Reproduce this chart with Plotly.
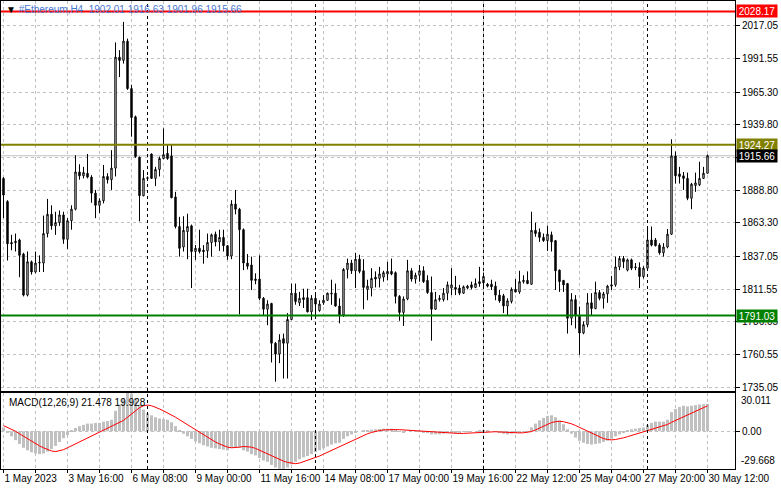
import plotly.graph_objects as go

# ---------------- data ----------------
opens = [1898,1880,1848,1849,1850,1839,1807,1833,1825,1832,1832,1855,1870,1861,1863.5,1869.5,1850.5,1865,1874,1903,
 1900,1902,1899,1886.5,1877,1880.5,1899.5,1897,1906,1992.5,1990,2005,1968,1946,1914.5,1884.5,1898,1917,1898,1905,
 1913.5,1917.5,1915.5,1883.5,1860.5,1844.5,1856.5,1861,1841,1843.5,1842,1841.5,1848,1854.5,1848.5,1852,1845.5,1837.5,1878,1874,
 1858,1832,1830.5,1819.5,1819.5,1804.5,1796,1800.5,1769.5,1761,1773,1769.5,1788,1808.5,1801,1805,1805,1794,1804.5,1795,
 1801,1803,1808.5,1808.5,1798.5,1791.5,1827,1832,1826,1835,1826,1811.5,1812.5,1821,1820,1821,1823.5,1825.5,1824.5,1806,
 1793.5,1804,1826,1819.5,1822.5,1826,1818.5,1809,1796,1803.5,1803.5,1808.5,1812.5,1813,1812.5,1808.5,1812.5,1815,1813,1817.5,
 1816.5,1815.5,1815.5,1814,1807,1806.5,1798.5,1802,1811.5,1809.5,1817.5,1818.5,1815.5,1857.5,1856,1852,1849.5,1854,1849.5,1826.5,
 1818.5,1816,1789,1803.5,1790.5,1777.5,1784,1801,1796.5,1809,1804.5,1808,1814,1815,1829,1835.5,1826.5,1834.5,1829,1828.5,
 1821.5,1828,1850,1850,1846,1840,1844.5,1854.5,1915.5,1901.5,1900,1898,1882.5,1892.5,1893,1898,1902.01]
highs = [1899,1881,1854,1855,1851,1840,1841,1834,1841,1838,1869,1882,1877,1872,1873,1872,1867,1877,1916,1909,
 1907,1917,1900.5,1889,1882.5,1908.5,1902,1920,2004,1998,2020,2007,1971,1947,1915,1904.5,1899.5,1917.5,1907,1915,
 1937,1924,1924,1887.5,1868,1868.5,1870.5,1862,1846,1858,1846,1855,1855,1856.5,1858,1858,1846,1881,1889,1875,
 1859,1839,1837,1824,1838,1805.5,1803,1801,1770.5,1776.5,1777,1793,1816,1816,1809.5,1812,1812,1807,1808.5,1803,
 1807,1809,1819,1816,1804.5,1828,1835.5,1834.5,1840,1838.5,1835,1819,1828,1825.5,1829,1826,1833,1835.5,1825.5,1807,
 1806,1834.5,1828,1824.5,1830.5,1829.5,1822.5,1821.5,1809.5,1807,1812.5,1817.5,1828,1822,1815,1814.5,1815,1817.5,1820,1829,
 1824.5,1816.5,1819,1817.5,1811,1808,1804.5,1813,1819.5,1826,1822.5,1825.5,1872,1863.5,1859,1855,1861,1856.5,1850,1827,
 1818.5,1816.5,1808.5,1807,1798,1786.5,1808.5,1808.5,1817.5,1811,1809.5,1815,1822,1837,1837.5,1837.5,1835.5,1835.5,1832,1832.5,
 1829.5,1860.5,1860.5,1851.5,1847.5,1847.5,1858.5,1928.5,1919,1907,1903,1902.5,1894.5,1902.5,1911,1907,1916.63]
lows = [1867,1834,1842,1841,1821,1806,1806,1823,1824,1825,1825,1852,1858,1854,1861,1847,1843,1858,1873,1897,
 1898,1898,1879,1867,1871,1878.5,1894,1889,1899.5,1977,1987.5,1967,1930.5,1914,1864.5,1884,1896.5,1897.5,1892,1899.5,
 1913,1912.5,1882.5,1859,1837,1841,1835,1812.5,1834.5,1839.5,1831.5,1836,1837,1845,1841.5,1841,1834.5,1835,1870,1792,
 1826.5,1827,1811,1815.5,1803,1791.5,1783.5,1754.5,1739.5,1754,1742,1742,1787.5,1799.5,1798.5,1797,1793.5,1787.5,1791.5,1794,
 1799.5,1802.5,1799.5,1798,1785,1790,1820,1823.5,1812.5,1824,1796,1803,1806,1813,1813,1817.5,1818.5,1822.5,1800.5,1787,
 1783,1803,1817.5,1816,1817.5,1816.5,1808,1771.5,1795.5,1802,1802,1803,1807,1807,1807,1808,1811.5,1811.5,1812.5,1813.5,
 1812.5,1813,1811,1803,1801,1793,1791.5,1800.5,1809,1808,1816,1815.5,1815,1852.5,1848.5,1848.5,1841.5,1841,1811,1809.5,
 1809.5,1777,1783.5,1781,1760.5,1776.5,1782,1791.5,1796,1803,1796.5,1801,1811,1813.5,1826.5,1828,1825.5,1826.5,1826.5,1812.5,
 1820,1827,1845,1845,1838.5,1837,1843.5,1854,1894,1894,1889,1881,1874,1887.5,1892,1897.5,1901.96]
closes = [1885,1847,1847,1848,1838,1807,1833,1825,1832,1832.5,1855,1870,1861,1863.5,1869.5,1850.5,1865,1874,1903,1900,
 1902.5,1899,1886.5,1877,1880.5,1899.5,1897,1906,1992.5,1990,2005,1968,1945.5,1915,1884.5,1898,1898.5,1898,1905,1913.5,
 1916.5,1913.5,1883,1860.5,1843.5,1857.5,1860.5,1841,1843.5,1841,1841,1848,1854,1848.5,1852,1845.5,1837.5,1878,1874,1858,
 1832,1829.5,1818.5,1818.5,1804.5,1796,1800,1769.5,1761,1772,1769.5,1788,1808.5,1802,1804.5,1803.5,1794,1804.5,1800,1800,
 1803,1808.5,1808,1798.5,1791.5,1827,1832,1826,1835,1825.5,1813,1814,1820,1819.5,1823.5,1824.5,1825.5,1823.5,1806,1793.5,
 1804,1826,1819.5,1822.5,1826,1817.5,1809,1796,1803.5,1804.5,1808.5,1815,1815,1811.5,1808.5,1813.5,1814,1813,1816,1816,
 1821.5,1814,1813.5,1807,1802.5,1798.5,1802.5,1811.5,1809.5,1817.5,1818.5,1816,1857.5,1855,1852,1849.5,1854.5,1848.5,1826,1817.5,
 1815,1789,1803.5,1791.5,1777.5,1784,1801,1796.5,1809,1804.5,1808,1814,1815,1829,1835.5,1833,1834.5,1828,1828.5,1821.5,
 1828,1850,1846,1845.5,1840,1844.5,1854.5,1915.5,1900,1899.5,1898,1882.5,1893.5,1894.5,1898,1902,1915.66]

macd_main = [3,-1,-4,-7,-10,-13,-15,-16.5,-17.5,-18,-17.5,-16,-14,-11.5,-8.5,-5.5,-3,0.5,2.5,4,
 5,6,6,6.5,6.5,7.5,8,9,16,21,26,30.011,29.5,26,21,17,14,12.5,11,10,
 9.5,9,7,4,1,-2,-4,-6,-8,-9.5,-11,-12,-13,-13.5,-14,-14.5,-15,-13,-12.5,-13,
 -15,-16,-18,-19,-21,-23,-24,-26.5,-28.5,-29.5,-29.668,-28.5,-26,-24,-22,-20.5,-19.5,-18,-16.5,-15,
 -13.5,-12,-10.5,-9.5,-9,-6,-4,-2.5,-1,0,0.5,0.8,1.2,1.5,1.8,2,2,2,1,-0.5,
 -1,0,0,-0.5,-0.5,-1,-1.5,-2.5,-2.5,-2.5,-2,-1.5,-1,-1,-1,-0.5,-0.5,0,0,0.3,
 0.5,0.3,0,-0.5,-1.5,-2,-2.5,-2,-1.5,-0.8,-0.3,-0.3,3,6,8.5,10.5,12,12.5,11,8.5,
 5.5,1.5,-2,-5,-7.5,-9,-10,-10.5,-10,-9.5,-8.5,-7.5,-6,-4,-2.5,-1,0.3,1.5,2,2.5,
 3,5,6.5,7.5,7.5,7.5,9,15,17.5,19,20,19.5,20,20.5,21,21.2,21.478]
macd_signal = [4.4,3,1.5,0,-2,-4,-6,-8,-10,-11.5,-13,-14.5,-15.5,-16,-15.5,-14.5,-13,-11.5,-10,-8.5,
 -7,-5.5,-4,-2.5,-1,0.5,2,3.5,5,6.5,8.5,11,13.5,16,18.5,20,20.5,20,19,17.5,
 16,14.5,13,11,9,7,5,3,1,-1,-3,-5,-7,-8.5,-10,-11.5,-12.5,-13,-13,-12.5,
 -12,-12,-12.5,-13.5,-15,-16.5,-18,-19.5,-21,-22.5,-23.5,-24.5,-25.2,-25.5,-25,-24,-23,-22,-21,-19.5,
 -18,-16.5,-15,-13.5,-12,-10.5,-9,-7.5,-6,-4.5,-3,-2,-1,0,0.5,1,1.2,1.3,1.3,1.2,
 1,0.8,0.6,0.4,0.2,0,-0.3,-0.6,-0.9,-1.2,-1.4,-1.6,-1.7,-1.8,-1.8,-1.7,-1.5,-1.3,-1,-0.8,
 -0.5,-0.4,-0.3,-0.4,-0.6,-0.8,-1,-1.2,-1.3,-1.3,-1.2,-1,-0.3,1,2.5,4,5.5,6.8,7.5,7.8,
 7.5,6.8,5.8,4.5,3,1.5,0,-1.5,-3,-4.5,-5.8,-6.5,-6.8,-6.5,-6,-5.2,-4.3,-3.3,-2.3,-1.3,
 -0.3,0.7,1.7,2.6,3.5,4.4,5.3,7,8.5,10,11.5,13,14.5,16,17.5,18.8,19.928]

date_labels = ["1 May 2023","3 May 16:00","6 May 08:00","9 May 00:00","11 May 16:00","14 May 08:00",
               "17 May 00:00","19 May 16:00","22 May 12:00","25 May 04:00","27 May 20:00","30 May 12:00"]
price_ticks = [2017.05,1991.55,1965.30,1939.80,1888.80,1863.30,1837.05,1811.55,1786.05,1760.55,1735.05]
levels = [2028.17, 1924.27, 1791.03]
level_colors = ["#ff0000", "#808000", "#008000"]
last_price = 1915.66
separators = [36, 78, 120, 161]

idx = list(range(len(closes)))

# ---------------- figure ----------------
FONT = "Liberation Sans"
GRID = "#c0c0c0"
GDASH = "3px,3px"
XR = [-0.625, 182.875]
fig = go.Figure()

fig.add_trace(go.Candlestick(
    x=idx, open=opens, high=highs, low=lows, close=closes,
    increasing=dict(fillcolor="white", line=dict(color="black", width=1)),
    decreasing=dict(fillcolor="black", line=dict(color="black", width=1)),
    whiskerwidth=0, showlegend=False, hoverinfo="skip", xaxis="x", yaxis="y"))

fig.add_trace(go.Bar(x=idx, y=macd_main, marker=dict(color="#c0c0c0", line=dict(width=0)),
                     width=0.75, showlegend=False, hoverinfo="skip", xaxis="x2", yaxis="y2"))
fig.add_trace(go.Scatter(x=idx, y=macd_signal, mode="lines", line=dict(color="#ff0000", width=1),
                         showlegend=False, hoverinfo="skip", xaxis="x2", yaxis="y2"))

grid_vals = list(range(0, 184, 8))
grid_text = [date_labels[v // 16] if v % 16 == 0 and v // 16 < len(date_labels) else "" for v in grid_vals]

axis_common = dict(showline=True, mirror=True, linecolor="black", linewidth=1, zeroline=False)

fig.update_layout(
    width=781, height=489,
    margin=dict(l=1, r=46, t=1, b=20),
    paper_bgcolor="white", plot_bgcolor="white",
    boxgap=0.5,
    font=dict(family=FONT, size=10, color="black"),
    xaxis=dict(domain=[0, 1], range=XR, anchor="y", tickvals=grid_vals, showticklabels=False,
               ticks="", showgrid=True, gridcolor=GRID, griddash=GDASH, gridwidth=1,
               rangeslider=dict(visible=False), **axis_common),
    xaxis2=dict(domain=[0, 1], range=XR, anchor="y2", matches="x", tickvals=grid_vals,
                ticktext=grid_text, ticks="outside", ticklen=3, tickcolor="black", tickangle=0,
                ticklabelposition="outside right", showgrid=True, gridcolor=GRID, griddash=GDASH,
                tickfont=dict(family=FONT, size=10, color="black"), **axis_common),
    yaxis=dict(domain=[0.1667, 1], range=[1732.26, 2036.3], side="right", anchor="x",
               tickvals=price_ticks + [1914.30], ticktext=[f"{v:.2f}" for v in price_ticks] + [""],
               ticks="outside", ticklen=4, tickcolor="black",
               showgrid=True, gridcolor=GRID, griddash=GDASH,
               tickfont=dict(family=FONT, size=10, color="black"), **axis_common),
    yaxis2=dict(domain=[0, 0.1624], range=[-29.668, 30.011], side="right", anchor="x2",
                tickvals=[0.0], ticktext=["0.00"], ticks="outside", ticklen=4, tickcolor="black",
                showgrid=True, gridcolor=GRID, griddash=GDASH,
                tickfont=dict(family=FONT, size=10, color="black"), **axis_common),
)

shapes = []
shapes.append(dict(type="line", xref="x domain", x0=0, x1=1, yref="y", y0=last_price, y1=last_price,
                   line=dict(color="#c0c0c0", width=1), layer="below"))
for s in separators:
    shapes.append(dict(type="line", xref="x", x0=s, x1=s, yref="paper", y0=0, y1=1,
                       line=dict(color="black", width=1, dash="3px,3px")))
for lv, col in zip(levels, level_colors):
    shapes.append(dict(type="line", xref="x domain", x0=0, x1=1, yref="y", y0=lv, y1=lv,
                       line=dict(color=col, width=2)))
fig.update_layout(shapes=shapes)

ann = []
for lv, col in zip(levels + [last_price], level_colors + ["#000000"]):
    ann.append(dict(xref="paper", x=1, xanchor="left", xshift=1, yref="y", y=lv, yanchor="middle",
                    text=f"{lv:.2f}", showarrow=False, bgcolor=col, width=40, height=12,
                    font=dict(family=FONT, size=10, color="white"), borderpad=0))
ann.append(dict(xref="paper", x=1, xanchor="left", xshift=4, yref="paper", y=0.1453, yanchor="middle",
                text="30.011", showarrow=False, font=dict(family=FONT, size=10, color="black")))
ann.append(dict(xref="paper", x=1, xanchor="left", xshift=4, yref="paper", y=0.0171, yanchor="middle",
                text="-29.668", showarrow=False, font=dict(family=FONT, size=10, color="black")))
ann.append(dict(xref="paper", x=0.004, xanchor="left", yref="paper", y=0.981, yanchor="middle",
                text="<span style='color:black'>▼</span> #Ethereum,H4  1902.01 1916.63 1901.96 1915.66",
                showarrow=False, font=dict(family=FONT, size=10, color="#4a78d0")))
ann.append(dict(xref="paper", x=0.008, xanchor="left", yref="paper", y=0.143, yanchor="middle",
                text="MACD(12,26,9) 21.478 19.928", showarrow=False,
                font=dict(family=FONT, size=10, color="black")))
fig.update_layout(annotations=ann)

fig.write_html("out.html", config={"displayModeBar": False},
               post_script="document.body.style.margin='0';document.body.style.overflow='hidden';")
